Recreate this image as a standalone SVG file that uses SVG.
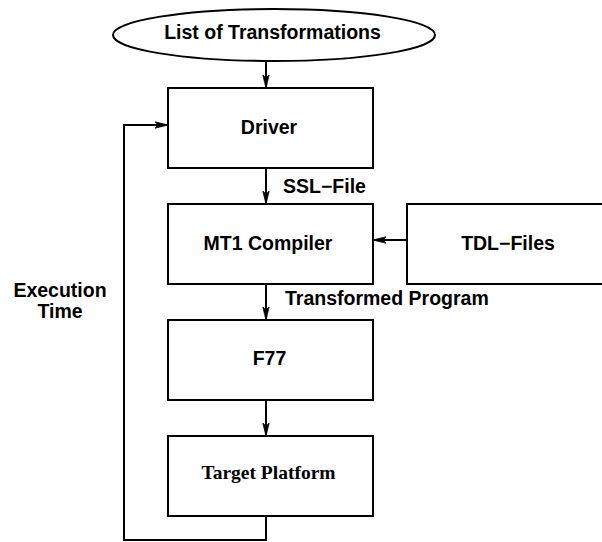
<svg xmlns="http://www.w3.org/2000/svg" width="602" height="542" viewBox="0 0 602 542">
<style>
.box{fill:#fff;stroke:#000;stroke-width:2}
.lbl{font-family:"Liberation Sans",Arial,sans-serif;font-weight:bold;font-size:19.5px;fill:#000}
.ser{font-family:"Liberation Serif","Times New Roman",serif;font-weight:bold;font-size:19.5px;fill:#000}
.edge{fill:none;stroke:#000;stroke-width:2}
</style>
<defs>
<marker id="arr" markerUnits="userSpaceOnUse" markerWidth="16" markerHeight="10" refX="13" refY="5" orient="auto">
<path d="M0,1.8 L13,5 L0,8.2 L3,5 Z" fill="#000" stroke="#000" stroke-width="0.8" stroke-linejoin="miter"/>
</marker>
</defs>
<rect width="602" height="542" fill="#fff"/>
<g id="connectors">
<line class="edge" x1="266" y1="61" x2="266" y2="88" marker-end="url(#arr)"/>
<line class="edge" x1="266" y1="168" x2="266" y2="204" marker-end="url(#arr)"/>
<line class="edge" x1="407" y1="240" x2="373" y2="240" marker-end="url(#arr)"/>
<line class="edge" x1="266" y1="284" x2="266" y2="320" marker-end="url(#arr)"/>
<line class="edge" x1="266" y1="400" x2="266" y2="436" marker-end="url(#arr)"/>
<polyline class="edge" points="266,516 266,540 124,540 124,125 168,125" marker-end="url(#arr)"/>
<text class="lbl" x="283" y="193">SSL−File</text>
<text class="lbl" x="285" y="305">Transformed Program</text>
<text class="lbl" x="60" y="297" text-anchor="middle">Execution</text>
<text class="lbl" x="60" y="318" text-anchor="middle">Time</text>
</g>
<g id="list">
<ellipse class="box" cx="274" cy="35" rx="161" ry="26"/>
<text class="lbl" x="272.5" y="39" text-anchor="middle">List of Transformations</text>
</g>
<g id="driver">
<rect class="box" x="168" y="88" width="205" height="80"/>
<text class="lbl" x="269" y="134" text-anchor="middle">Driver</text>
</g>
<g id="mt1">
<rect class="box" x="168" y="204" width="205" height="80"/>
<text class="lbl" x="268" y="250" text-anchor="middle">MT1 Compiler</text>
</g>
<g id="tdl">
<rect class="box" x="407" y="204" width="210" height="80"/>
<text class="lbl" x="508" y="250" text-anchor="middle">TDL−Files</text>
</g>
<g id="f77">
<rect class="box" x="168" y="320" width="205" height="80"/>
<text class="lbl" x="269.5" y="365" text-anchor="middle">F77</text>
</g>
<g id="target">
<rect class="box" x="168" y="436" width="205" height="80"/>
<text class="ser" x="268.5" y="479" text-anchor="middle">Target Platform</text>
</g>
</svg>
